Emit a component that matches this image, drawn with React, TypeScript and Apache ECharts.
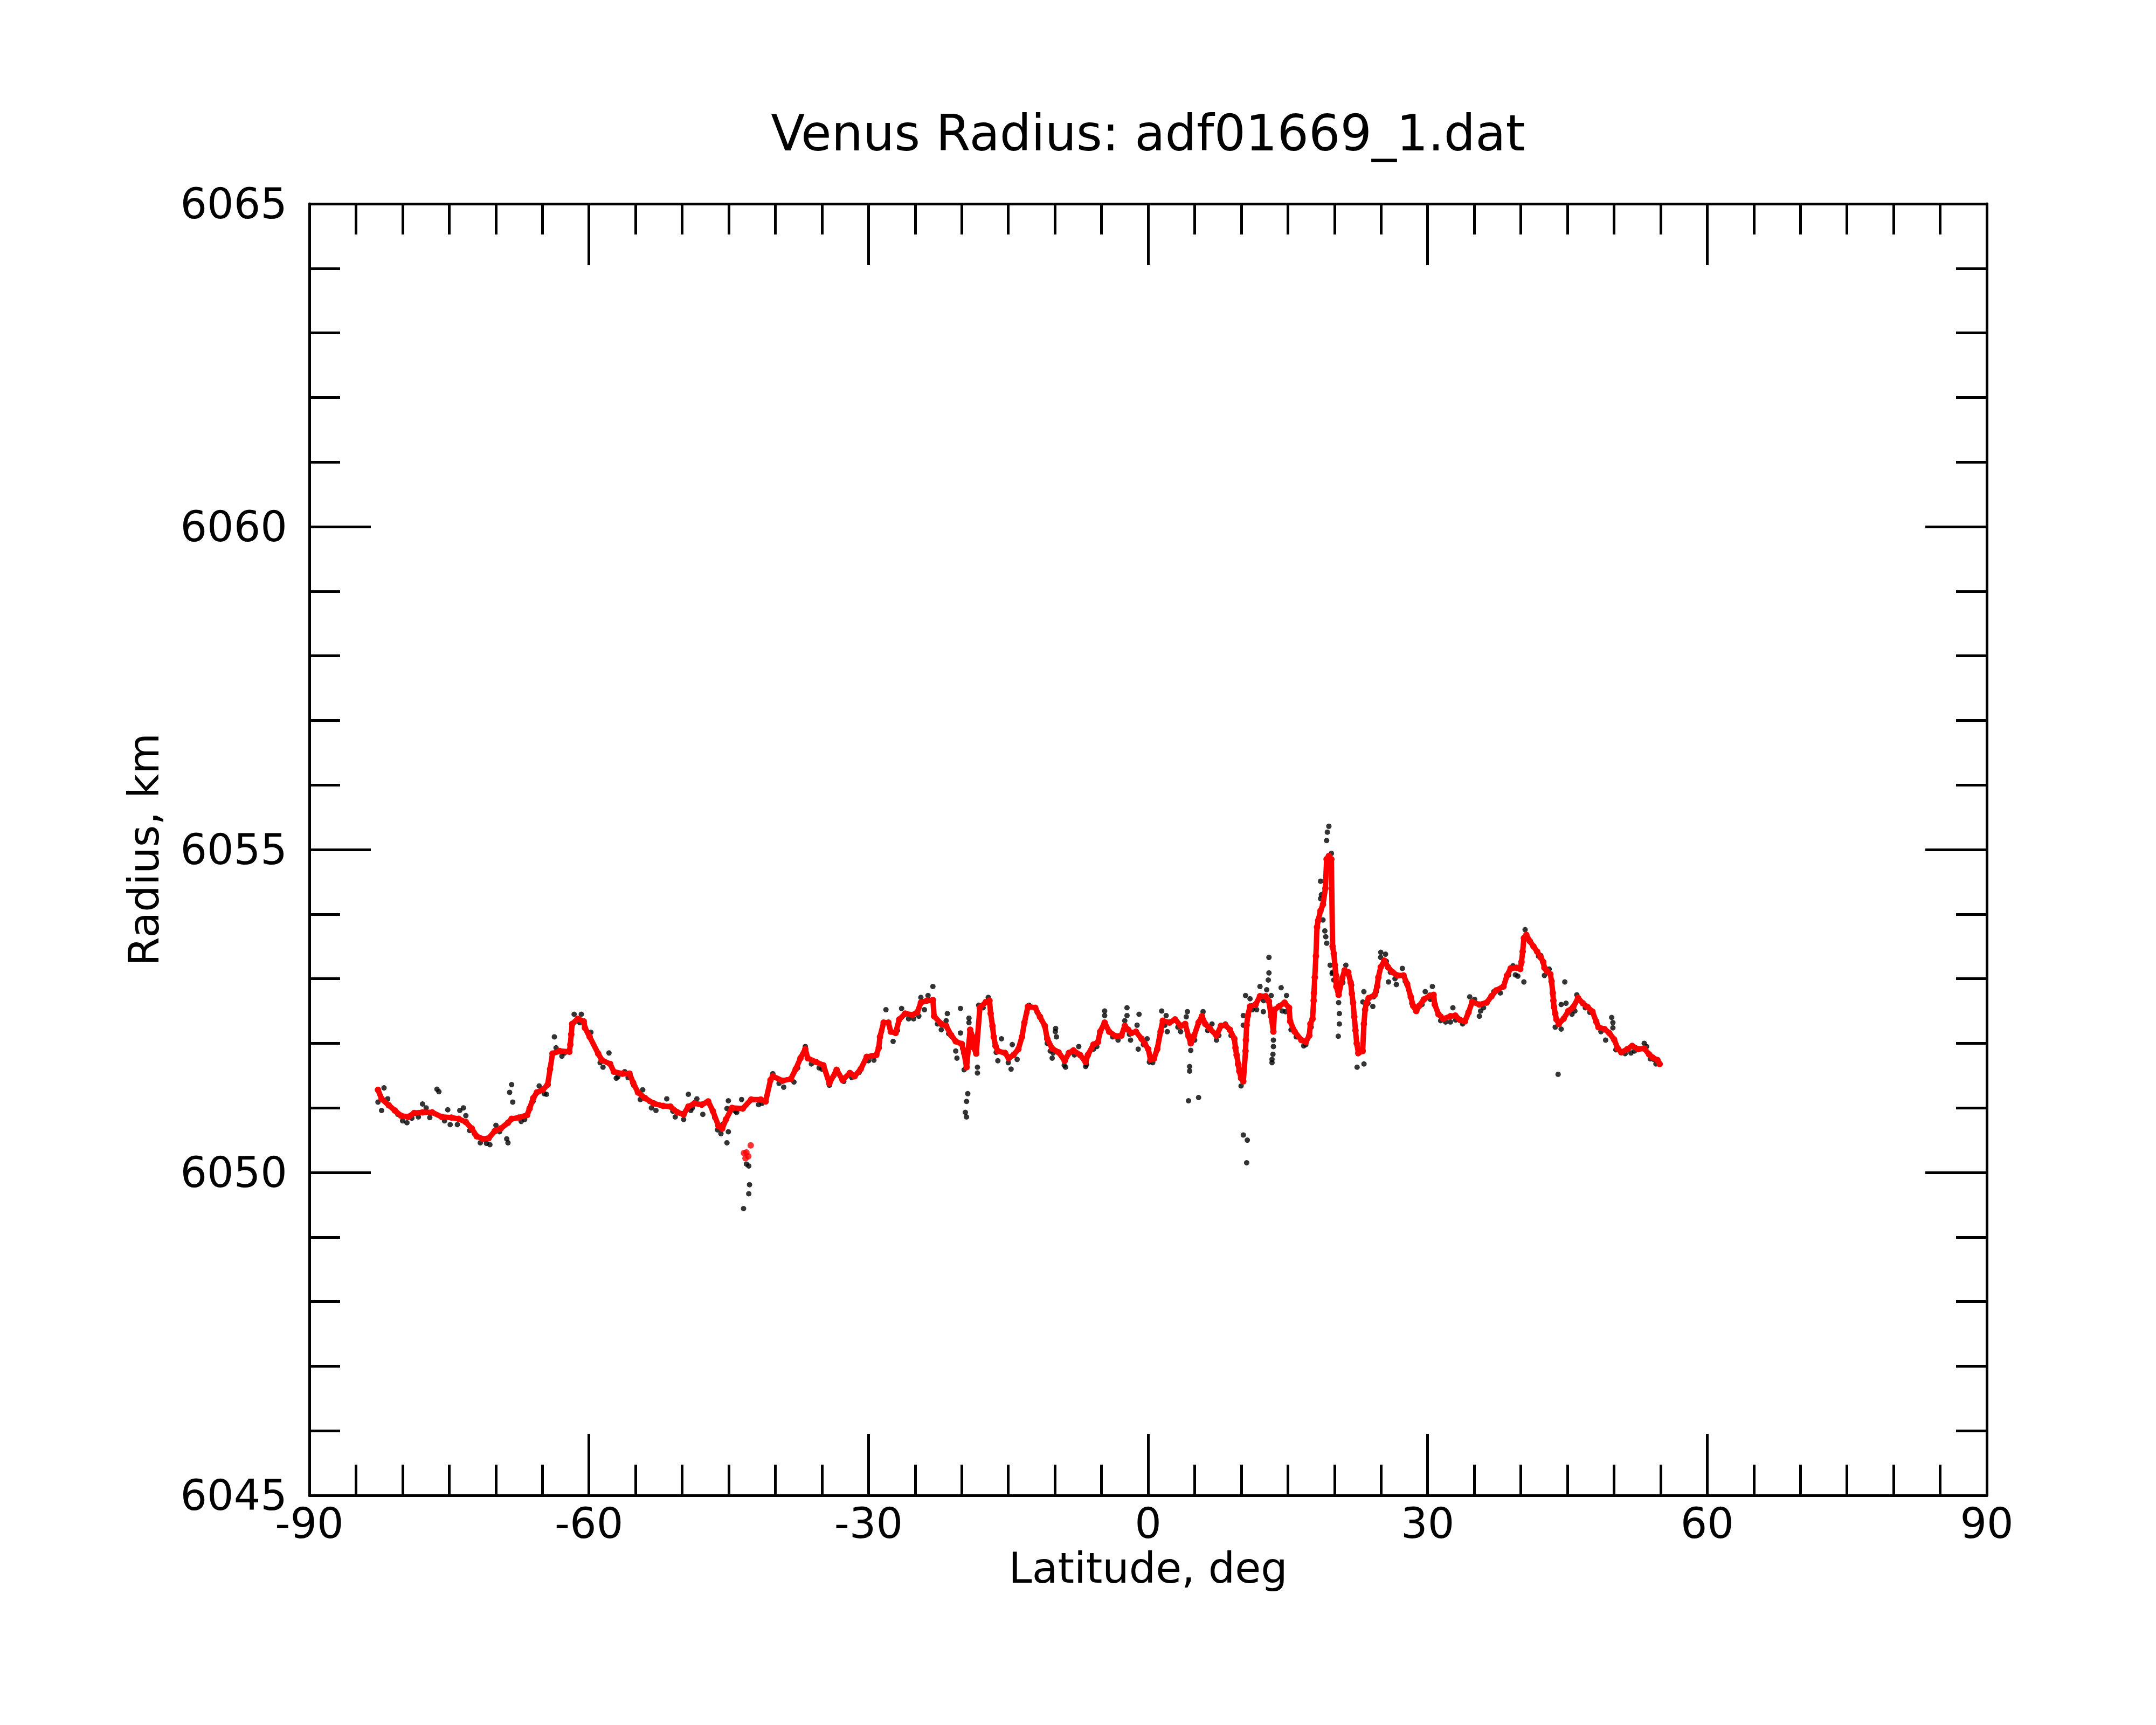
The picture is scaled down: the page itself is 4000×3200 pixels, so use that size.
import React, { useEffect, useRef } from "react";
import * as echarts from "echarts";

const TITLE = "Venus Radius: adf01669_1.dat";
const X_NAME = "Latitude, deg";
const Y_NAME = "Radius, km";
const X_MIN = -90;
const X_MAX = 90;
const X_STEP = 30;
const Y_MIN = 6045;
const Y_MAX = 6065;
const Y_STEP = 5;
const FONT = "DejaVu Sans";

// Smoothed radius profile (red), [latitude deg, radius km]
const smoothed: number[][] = [
  [-82.64, 6051.28], [-82.25, 6051.14], [-81.47, 6051.04], [-80.83, 6050.96], [-80.18, 6050.88],
  [-79.41, 6050.86], [-78.76, 6050.92], [-77.86, 6050.93], [-76.82, 6050.93], [-75.79, 6050.86],
  [-74.76, 6050.85], [-73.98, 6050.83], [-73.21, 6050.78], [-72.57, 6050.68], [-72.05, 6050.56],
  [-71.4, 6050.52], [-70.76, 6050.53], [-70.11, 6050.64], [-69.47, 6050.68], [-68.69, 6050.77],
  [-68.3, 6050.83], [-67.53, 6050.85], [-66.63, 6050.89], [-66.37, 6050.99], [-65.98, 6051.15],
  [-65.59, 6051.24], [-64.95, 6051.28], [-64.43, 6051.36], [-64.17, 6051.6], [-63.91, 6051.84],
  [-63.14, 6051.88], [-62.1, 6051.87], [-62.0, 6051.98], [-61.9, 6052.14], [-61.8, 6052.3],
  [-61.2, 6052.38], [-60.56, 6052.34], [-60.43, 6052.24], [-59.92, 6052.1], [-59.01, 6051.84],
  [-58.62, 6051.74], [-57.72, 6051.68], [-57.33, 6051.56], [-56.42, 6051.53], [-55.65, 6051.53],
  [-55.26, 6051.39], [-54.74, 6051.24], [-53.97, 6051.15], [-53.07, 6051.07], [-52.03, 6051.03],
  [-51.26, 6051.02], [-50.49, 6050.93], [-49.84, 6050.9], [-49.33, 6051.02], [-48.68, 6051.07],
  [-47.9, 6051.05], [-47.2, 6051.1], [-46.7, 6050.95], [-46.1, 6050.72], [-45.7, 6050.68],
  [-45.3, 6050.82], [-44.65, 6051.0], [-43.49, 6050.99], [-42.59, 6051.13], [-41.56, 6051.13],
  [-41.04, 6051.1], [-40.52, 6051.43], [-40.27, 6051.49], [-39.23, 6051.42], [-38.33, 6051.45],
  [-37.81, 6051.6], [-37.3, 6051.77], [-36.78, 6051.91], [-36.52, 6051.77], [-35.62, 6051.71],
  [-34.84, 6051.66], [-34.2, 6051.38], [-33.42, 6051.59], [-32.78, 6051.43], [-32.0, 6051.54],
  [-31.49, 6051.49], [-30.84, 6051.6], [-30.19, 6051.79], [-29.16, 6051.82], [-28.9, 6051.93],
  [-28.77, 6052.1], [-28.38, 6052.32], [-27.87, 6052.32], [-27.61, 6052.18], [-27.09, 6052.16],
  [-26.7, 6052.37], [-26.06, 6052.46], [-25.28, 6052.44], [-24.77, 6052.48], [-24.38, 6052.63],
  [-23.74, 6052.66], [-23.09, 6052.67], [-22.96, 6052.42], [-22.19, 6052.3], [-21.67, 6052.27],
  [-21.15, 6052.13], [-20.64, 6052.03], [-19.99, 6051.99], [-19.74, 6051.85], [-19.48, 6051.63],
  [-19.09, 6052.21], [-18.83, 6052.1], [-18.7, 6051.93], [-18.44, 6051.84], [-18.05, 6052.55],
  [-17.41, 6052.64], [-17.02, 6052.66], [-16.89, 6052.46], [-16.7, 6052.27], [-16.56, 6052.1],
  [-16.37, 6051.96], [-16.12, 6051.88], [-15.35, 6051.85], [-14.96, 6051.77], [-14.44, 6051.82],
  [-13.92, 6051.91], [-13.53, 6052.1], [-13.27, 6052.32], [-12.89, 6052.57], [-12.11, 6052.55],
  [-11.6, 6052.41], [-11.08, 6052.27], [-10.82, 6052.07], [-10.3, 6051.92], [-9.6, 6051.86],
  [-8.95, 6051.73], [-8.5, 6051.85], [-8.01, 6051.89], [-7.3, 6051.82], [-6.7, 6051.71],
  [-6.46, 6051.82], [-5.86, 6051.98], [-5.38, 6052.02], [-5.14, 6052.18], [-4.66, 6052.32],
  [-4.18, 6052.18], [-3.46, 6052.11], [-2.86, 6052.12], [-2.5, 6052.27], [-2.14, 6052.21],
  [-1.78, 6052.16], [-1.3, 6052.18], [-0.7, 6052.07], [-0.34, 6051.99], [0.02, 6051.91],
  [0.26, 6051.75], [0.62, 6051.76], [0.98, 6051.91], [1.34, 6052.18], [1.58, 6052.35],
  [2.3, 6052.32], [2.9, 6052.37], [3.5, 6052.27], [3.98, 6052.3], [4.34, 6052.11],
  [4.58, 6052.0], [4.94, 6052.12], [5.42, 6052.32], [5.78, 6052.42], [6.14, 6052.3],
  [6.62, 6052.23], [7.34, 6052.12], [7.82, 6052.27], [8.3, 6052.28], [8.78, 6052.21],
  [9.26, 6052.07], [9.38, 6051.93], [9.5, 6051.82], [9.69, 6051.67], [9.79, 6051.57],
  [9.98, 6051.46], [10.22, 6051.41], [10.46, 6051.88], [10.5, 6052.05], [10.58, 6052.28],
  [10.7, 6052.43], [10.94, 6052.57], [11.54, 6052.6], [12.01, 6052.73], [12.61, 6052.73],
  [12.97, 6052.65], [13.21, 6052.42], [13.45, 6052.18], [13.57, 6052.52], [14.05, 6052.57],
  [14.65, 6052.63], [15.13, 6052.55], [15.25, 6052.34], [15.73, 6052.18], [16.45, 6052.05],
  [16.93, 6052.02], [17.3, 6052.12], [17.42, 6052.3], [17.65, 6052.38], [17.77, 6052.66],
  [17.8, 6052.78], [17.89, 6053.02], [18.01, 6053.35], [18.13, 6053.8], [18.25, 6053.9],
  [18.5, 6054.05], [18.77, 6054.15], [19.03, 6054.4], [19.16, 6054.85], [19.4, 6054.9],
  [19.67, 6054.85], [19.8, 6053.5], [19.93, 6053.39], [20.05, 6053.21], [20.17, 6053.05],
  [20.2, 6052.88], [20.45, 6052.75], [20.84, 6053.01], [21.09, 6053.13], [21.48, 6053.1],
  [21.74, 6052.94], [21.87, 6052.77], [22.0, 6052.63], [22.13, 6052.41], [22.26, 6052.2],
  [22.39, 6052.0], [22.57, 6051.85], [23.03, 6051.88], [23.16, 6052.3], [23.29, 6052.52],
  [23.41, 6052.62], [23.67, 6052.7], [24.32, 6052.75], [24.58, 6052.88], [24.71, 6053.02],
  [24.97, 6053.18], [25.35, 6053.28], [25.74, 6053.18], [26.25, 6053.1], [26.77, 6053.05],
  [27.42, 6053.05], [27.8, 6052.92], [28.19, 6052.72], [28.45, 6052.58], [28.78, 6052.5],
  [29.09, 6052.58], [29.6, 6052.68], [30.25, 6052.74], [30.64, 6052.75], [30.77, 6052.6],
  [31.16, 6052.45], [31.68, 6052.38], [32.45, 6052.42], [32.97, 6052.43], [33.49, 6052.36],
  [34.0, 6052.34], [34.39, 6052.48], [34.78, 6052.64], [35.55, 6052.6], [36.33, 6052.63],
  [36.85, 6052.73], [37.36, 6052.82], [38.14, 6052.88], [38.52, 6053.05], [38.91, 6053.16],
  [39.55, 6053.17], [39.94, 6053.15], [40.07, 6053.26], [40.2, 6053.42], [40.33, 6053.63],
  [40.59, 6053.68], [40.97, 6053.58], [41.36, 6053.5], [41.75, 6053.42], [42.14, 6053.33],
  [42.4, 6053.26], [42.53, 6053.17], [42.78, 6053.12], [43.17, 6053.07], [43.3, 6052.96],
  [43.43, 6052.78], [43.5, 6052.66], [43.56, 6052.56], [43.69, 6052.46], [43.82, 6052.37],
  [44.08, 6052.3], [44.59, 6052.38], [45.1, 6052.5], [45.62, 6052.56], [46.14, 6052.7],
  [46.66, 6052.62], [47.17, 6052.56], [47.69, 6052.49], [48.08, 6052.34], [48.33, 6052.25],
  [48.98, 6052.22], [49.49, 6052.16], [50.01, 6052.06], [50.4, 6051.92], [50.79, 6051.86],
  [51.43, 6051.91], [51.95, 6051.96], [52.59, 6051.91], [53.24, 6051.92], [53.76, 6051.83],
  [54.14, 6051.78], [54.66, 6051.74], [54.9, 6051.68],
];

// Smoothed points in the dip near -43 deg (red, not joined to the profile)
const smoothedDip: number[][] = [
  [-43.36, 6050.3], [-43.2, 6050.22], [-43.1, 6050.31], [-42.9, 6050.25], [-42.64, 6050.42],
];

// Raw radius samples (black), [latitude deg, radius km]
const raw: number[][] = [
  [-82.64, 6051.09], [-82.25, 6050.96], [-81.99, 6051.31], [-81.6, 6051.14], [-80.5, 6050.9],
  [-79.53, 6050.77], [-79.0, 6050.84], [-77.86, 6051.06], [-77.47, 6051.0], [-77.08, 6050.85],
  [-76.31, 6051.29], [-76.1, 6051.25], [-75.15, 6050.97], [-74.89, 6050.74], [-74.12, 6050.74],
  [-73.86, 6050.96], [-73.47, 6051.0], [-73.21, 6050.88], [-72.3, 6050.6], [-71.66, 6050.46],
  [-70.63, 6050.43], [-69.98, 6050.73], [-69.59, 6050.63], [-68.82, 6050.52], [-68.69, 6050.46],
  [-68.51, 6051.24], [-68.3, 6051.36], [-68.18, 6051.09], [-67.27, 6050.79], [-66.0, 6051.1],
  [-65.34, 6051.34], [-64.56, 6051.21], [-63.71, 6052.1], [-63.53, 6051.93], [-62.62, 6051.85],
  [-61.59, 6052.45], [-60.82, 6052.45], [-60.5, 6052.3], [-59.79, 6052.17], [-58.49, 6051.63],
  [-57.85, 6051.85], [-57.07, 6051.46], [-56.16, 6051.56], [-55.2, 6051.35], [-54.49, 6051.13],
  [-54.23, 6051.28], [-53.5, 6051.1], [-52.81, 6050.96], [-51.65, 6051.14], [-50.74, 6050.86],
  [-49.84, 6050.82], [-49.33, 6051.21], [-49.07, 6050.96], [-48.42, 6051.14], [-47.78, 6050.9],
  [-47.39, 6051.09], [-46.2, 6050.66], [-45.84, 6050.6], [-45.69, 6050.74], [-45.19, 6050.46],
  [-45.19, 6050.99], [-45.04, 6050.63], [-45.04, 6051.11], [-44.14, 6050.93], [-43.62, 6051.13],
  [-43.41, 6049.44], [-43.1, 6050.13], [-42.85, 6050.1], [-42.77, 6049.81], [-42.85, 6049.67],
  [-41.43, 6051.07], [-40.27, 6051.53], [-39.1, 6051.32], [-38.0, 6051.4], [-36.78, 6051.95],
  [-36.13, 6051.68], [-35.0, 6051.6], [-34.2, 6051.35], [-32.65, 6051.41], [-31.0, 6051.55],
  [-29.42, 6051.74], [-28.13, 6052.52], [-27.36, 6052.03], [-26.45, 6052.54], [-25.16, 6052.38],
  [-24.38, 6052.71], [-24.0, 6052.52], [-23.61, 6052.74], [-23.09, 6052.88], [-22.19, 6052.21],
  [-21.67, 6052.35], [-21.54, 6052.46], [-20.64, 6051.88], [-20.51, 6051.77], [-20.13, 6052.54],
  [-20.13, 6052.16], [-19.74, 6051.59], [-19.61, 6050.93], [-19.48, 6051.1], [-19.48, 6050.86],
  [-19.35, 6051.22], [-19.22, 6052.39], [-19.22, 6052.32], [-18.31, 6051.63], [-18.31, 6051.54],
  [-18.18, 6052.59], [-17.15, 6052.71], [-16.12, 6051.73], [-15.73, 6052.07], [-14.7, 6051.6],
  [-14.57, 6051.98], [-14.05, 6051.75], [-12.76, 6052.59], [-11.4, 6052.35], [-10.82, 6052.0],
  [-10.18, 6051.85], [-10.29, 6051.77], [-9.95, 6052.18], [-9.92, 6052.23], [-9.83, 6052.1],
  [-8.89, 6051.73], [-8.85, 6051.63], [-7.44, 6051.95], [-6.7, 6051.64], [-5.86, 6051.91],
  [-4.66, 6052.5], [-4.66, 6052.43], [-3.22, 6052.05], [-2.5, 6052.35], [-2.26, 6052.55],
  [-2.26, 6052.43], [-1.88, 6052.05], [-1.18, 6052.28], [-1.06, 6051.91], [-0.97, 6052.45],
  [-0.1, 6052.07], [0.14, 6051.71], [1.46, 6052.5], [1.94, 6052.43], [2.06, 6052.18],
  [3.5, 6052.18], [4.1, 6052.41], [4.22, 6052.49], [4.34, 6051.11], [4.46, 6051.64],
  [4.46, 6051.57], [4.58, 6051.89], [5.42, 6051.16], [5.9, 6052.49], [6.86, 6052.3],
  [7.34, 6052.05], [8.3, 6052.3], [9.98, 6051.34], [10.22, 6050.58], [10.65, 6050.5],
  [10.58, 6050.15], [10.22, 6052.43], [10.22, 6052.28], [10.46, 6052.74], [10.94, 6052.69],
  [11.65, 6052.52], [12.01, 6052.88], [12.37, 6052.49], [12.73, 6052.83], [12.97, 6053.33],
  [12.97, 6053.09], [12.9, 6052.98], [13.21, 6052.74], [13.45, 6052.05], [13.45, 6051.95],
  [13.4, 6051.83], [13.3, 6051.75], [13.3, 6051.7], [14.28, 6052.86], [14.86, 6052.74],
  [14.74, 6052.49], [15.34, 6052.21], [16.93, 6051.98], [18.51, 6054.51], [18.6, 6054.3],
  [18.51, 6054.24], [18.77, 6053.91], [18.97, 6053.74], [19.07, 6053.65], [19.17, 6053.55],
  [19.16, 6055.14], [19.24, 6055.27], [19.4, 6055.36], [19.67, 6054.94], [19.54, 6053.21],
  [19.75, 6053.08], [19.8, 6053.1], [19.93, 6052.98], [20.45, 6052.63], [20.53, 6052.46],
  [20.53, 6052.3], [20.41, 6052.11], [21.22, 6053.21], [21.25, 6053.08], [21.85, 6052.9],
  [22.43, 6051.63], [22.52, 6051.84], [23.17, 6051.68], [23.05, 6052.64], [23.16, 6052.8],
  [24.12, 6052.57], [24.19, 6052.72], [24.96, 6053.33], [24.97, 6053.41], [25.48, 6053.38],
  [25.57, 6053.27], [25.8, 6052.95], [26.0, 6053.1], [26.64, 6052.91], [27.29, 6053.16],
  [28.71, 6052.5], [29.74, 6052.8], [30.51, 6052.88], [31.42, 6052.42], [31.93, 6052.33],
  [32.45, 6052.33], [32.71, 6052.55], [33.75, 6052.3], [34.52, 6052.72], [35.04, 6052.68],
  [35.55, 6052.42], [35.68, 6052.5], [37.1, 6052.8], [39.16, 6053.2], [39.42, 6053.06],
  [39.68, 6053.04], [40.33, 6052.95], [40.46, 6053.76], [41.36, 6053.5], [42.14, 6053.36],
  [42.53, 6053.05], [43.04, 6053.15], [43.69, 6052.25], [44.0, 6051.52], [44.33, 6052.22],
  [44.33, 6052.6], [44.72, 6052.95], [44.85, 6052.62], [45.49, 6052.45], [46.01, 6052.75],
  [46.92, 6052.55], [49.1, 6052.05], [49.75, 6052.4], [49.88, 6052.32], [49.88, 6052.24],
  [51.82, 6051.85], [53.24, 6052.0], [53.5, 6051.95], [54.27, 6051.75],
  [-80.0, 6050.8], [-78.3, 6050.86], [-75.5, 6050.8], [-72.8, 6050.65], [-71.0, 6050.45],
  [-66.9, 6050.82], [-64.8, 6051.22], [-62.9, 6051.8], [-61.0, 6052.32], [-58.8, 6051.7],
  [-56.9, 6051.48], [-55.8, 6051.47], [-53.3, 6051.0], [-51.0, 6050.95], [-48.9, 6051.0],
  [-46.5, 6050.85], [-44.3, 6050.95], [-41.8, 6051.05], [-39.6, 6051.38], [-37.6, 6051.62],
  [-35.3, 6051.62], [-33.7, 6051.5], [-31.8, 6051.47], [-30.0, 6051.73], [-28.6, 6052.18],
  [-26.9, 6052.2], [-25.7, 6052.38], [-24.6, 6052.42], [-22.6, 6052.3], [-21.4, 6052.15],
  [-19.9, 6051.92], [-17.7, 6052.55], [-16.3, 6051.86], [-15.0, 6051.7], [-13.0, 6052.48],
  [-11.9, 6052.48], [-10.5, 6051.88], [-9.0, 6051.66], [-7.9, 6051.82], [-6.6, 6051.67],
  [-5.5, 6051.95], [-3.8, 6052.1], [-2.0, 6052.14], [-0.5, 6051.98], [0.5, 6051.7],
  [1.8, 6052.28], [3.2, 6052.25], [5.0, 6052.05], [6.4, 6052.2], [7.6, 6052.12],
  [8.9, 6052.12], [9.6, 6051.68], [11.2, 6052.52], [12.4, 6052.66], [14.4, 6052.5],
  [15.9, 6052.1], [16.7, 6051.96], [17.5, 6052.25], [20.9, 6052.94], [23.6, 6052.62],
  [24.5, 6052.8], [26.5, 6053.0], [27.6, 6052.96], [28.3, 6052.62], [29.4, 6052.6],
  [30.3, 6052.68], [31.4, 6052.35], [33.0, 6052.36], [34.2, 6052.4], [36.0, 6052.55],
  [37.8, 6052.78], [38.7, 6053.06], [40.7, 6053.62], [41.9, 6053.35], [43.45, 6052.66],
  [45.8, 6052.5], [47.4, 6052.48], [48.6, 6052.18], [50.2, 6051.9], [51.2, 6051.84],
  [52.2, 6051.88], [53.9, 6051.76], [54.5, 6051.68],
];

function axisCommon(showLabels: boolean) {
  return {
    type: "value",
    splitLine: { show: false },
    minorSplitLine: { show: false },
    axisLine: { show: true, onZero: false, lineStyle: { color: "#000", width: 5 } },
    axisTick: { show: true, inside: true, length: 114, lineStyle: { color: "#000", width: 5 } },
    axisLabel: {
      show: showLabels,
      color: "#000",
      fontSize: 78,
      fontFamily: FONT,
      showMinLabel: true,
      showMaxLabel: true,
      formatter: (v: number) => String(v),
    },
  };
}

export default function App() {
  const ref = useRef<HTMLDivElement>(null);
  useEffect(() => {
    if (!ref.current) return;
    const chart = echarts.init(ref.current, undefined, { renderer: "svg" });
    const xBase = { min: X_MIN, max: X_MAX, interval: X_STEP };
    const yBase = { min: Y_MIN, max: Y_MAX, interval: Y_STEP };
    const bottomX: any = axisCommon(true);
    const topX: any = axisCommon(false);
    const leftY: any = axisCommon(true);
    const rightY: any = axisCommon(false);
    chart.setOption({
      animation: false,
      backgroundColor: "#ffffff",
      graphic: [
        {
          type: "text",
          x: 2130,
          y: 201,
          silent: true,
          style: {
            text: TITLE,
            fill: "#000",
            fontSize: 92,
            fontFamily: FONT,
            fontWeight: "normal",
            align: "center",
            verticalAlign: "top",
          },
        },
      ],
      grid: { left: 574, top: 378, width: 3112, height: 2396, containLabel: false },
      xAxis: [
        {
          ...bottomX,
          ...xBase,
          position: "bottom",
          minorTick: { show: true, splitNumber: 6, length: 57, lineStyle: { color: "#000", width: 5 } },
          axisLabel: { ...bottomX.axisLabel, margin: 13 },
          name: X_NAME,
          nameLocation: "middle",
          nameGap: 92,
          nameTextStyle: { color: "#000", fontSize: 78, fontFamily: FONT },
        },
        {
          ...topX,
          ...xBase,
          position: "top",
          minorTick: { show: true, splitNumber: 6, length: 57, lineStyle: { color: "#000", width: 5 } },
        },
      ],
      yAxis: [
        {
          ...leftY,
          ...yBase,
          position: "left",
          minorTick: { show: true, splitNumber: 5, length: 57, lineStyle: { color: "#000", width: 5 } },
          axisLabel: { ...leftY.axisLabel, margin: 41 },
          name: Y_NAME,
          nameLocation: "middle",
          nameGap: 268,
          nameTextStyle: { color: "#000", fontSize: 78, fontFamily: FONT },
        },
        {
          ...rightY,
          ...yBase,
          position: "right",
          minorTick: { show: true, splitNumber: 5, length: 57, lineStyle: { color: "#000", width: 5 } },
        },
      ],
      series: [
        {
          type: "scatter",
          name: "raw",
          xAxisIndex: 0,
          yAxisIndex: 0,
          data: raw,
          symbol: "circle",
          symbolSize: 10,
          itemStyle: { color: "#000" },
          silent: true,
          z: 2,
        },
        {
          type: "line",
          name: "smoothed",
          xAxisIndex: 0,
          yAxisIndex: 0,
          data: smoothed,
          symbol: "circle",
          symbolSize: 12,
          showSymbol: true,
          lineStyle: { color: "#ff0000", width: 10 },
          itemStyle: { color: "#ff0000" },
          silent: true,
          z: 3,
        },
        {
          type: "scatter",
          name: "smoothedDip",
          xAxisIndex: 0,
          yAxisIndex: 0,
          data: smoothedDip,
          symbol: "circle",
          symbolSize: 12,
          itemStyle: { color: "#ff0000" },
          silent: true,
          z: 3,
        },
      ],
    });
    return () => chart.dispose();
  }, []);
  return (
    <div
      ref={ref}
      style={{ position: "fixed", left: 0, top: 0, width: 4000, height: 3200, background: "#fff" }}
    />
  );
}
